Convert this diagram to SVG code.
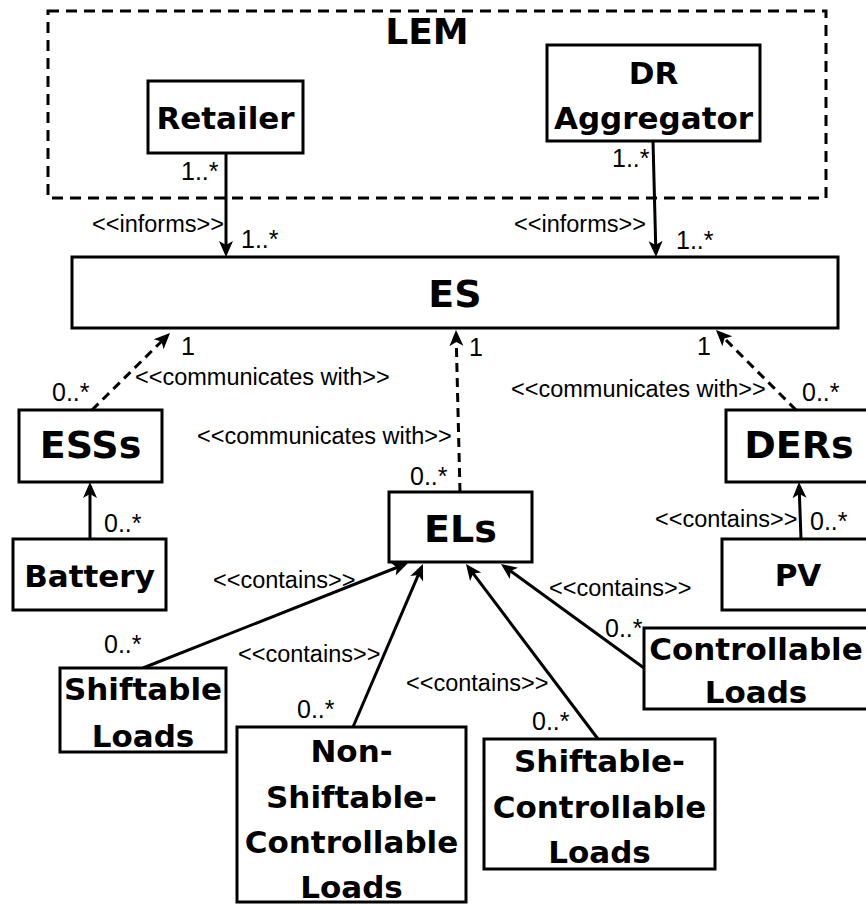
<svg xmlns="http://www.w3.org/2000/svg" width="866" height="904" viewBox="0 0 866 904">
  <style>
    .box { fill: #ffffff; stroke: #000000; stroke-width: 3; }
    .frame { fill: none; stroke: #000000; stroke-width: 3; stroke-dasharray: 11 7; }
    .name { font-family: "DejaVu Sans", Verdana, sans-serif; font-weight: bold; fill: #000000; text-anchor: middle; }
    .title { font-size: 36px; }
    .big { font-size: 38px; }
    .mid { font-size: 31px; }
    .lbl { font-family: "Liberation Sans", Arial, sans-serif; font-size: 23.5px; fill: #000000; }
    .mult { font-family: "Liberation Sans", Arial, sans-serif; font-size: 25px; fill: #000000; }
    .edge { fill: none; stroke: #000000; stroke-width: 3; marker-end: url(#head); }
    .dash { stroke-dasharray: 9 6; }
  </style>
  <defs>
    <marker id="head" markerUnits="userSpaceOnUse" markerWidth="16" markerHeight="14" refX="12" refY="7" orient="auto" overflow="visible">
      <path d="M0,0 L16,7 L0,14 L4,7 z" fill="#000000"/>
    </marker>
  </defs>

  <!-- LEM container -->
  <g id="lem">
    <rect class="frame" x="48" y="11" width="778" height="187"/>
    <text class="name title" x="427" y="44">LEM</text>
  </g>

  <!-- connectors -->
  <g id="connectors">
    <line class="edge" x1="226" y1="153" x2="226" y2="253"/>
    <line class="edge" x1="653" y1="141" x2="655.9" y2="253"/>
    <line class="edge dash" x1="92" y1="410" x2="167.2" y2="335.8"/>
    <line class="edge dash" x1="460" y1="492" x2="456.1" y2="334"/>
    <line class="edge dash" x1="796" y1="410" x2="718.8" y2="332.8"/>
    <line class="edge" x1="90" y1="539" x2="90" y2="486"/>
    <line class="edge" x1="801" y1="539" x2="799.1" y2="486"/>
    <line class="edge" x1="143" y1="668" x2="404.3" y2="564.5"/>
    <line class="edge" x1="353" y1="727" x2="421.4" y2="567.7"/>
    <line class="edge" x1="598" y1="739" x2="468.4" y2="567.2"/>
    <line class="edge" x1="644" y1="668" x2="504.2" y2="566.4"/>
  </g>

  <!-- connector labels -->
  <g id="labels">
    <text class="mult" x="181" y="180">1..*</text>
    <text class="lbl" x="92" y="232">&lt;&lt;informs&gt;&gt;</text>
    <text class="mult" x="241" y="248">1..*</text>
    <text class="mult" x="612" y="167">1..*</text>
    <text class="lbl" x="514" y="232">&lt;&lt;informs&gt;&gt;</text>
    <text class="mult" x="676" y="249">1..*</text>

    <text class="mult" x="181" y="355">1</text>
    <text class="lbl" x="135" y="385">&lt;&lt;communicates with&gt;&gt;</text>
    <text class="mult" x="52" y="401">0..*</text>

    <text class="mult" x="469" y="356">1</text>
    <text class="lbl" x="197" y="444">&lt;&lt;communicates with&gt;&gt;</text>
    <text class="mult" x="410" y="485">0..*</text>

    <text class="mult" x="697" y="355">1</text>
    <text class="lbl" x="511" y="397">&lt;&lt;communicates with&gt;&gt;</text>
    <text class="mult" x="802" y="401">0..*</text>

    <text class="mult" x="104" y="532">0..*</text>
    <text class="lbl" x="655" y="527">&lt;&lt;contains&gt;&gt;</text>
    <text class="mult" x="810" y="530">0..*</text>

    <text class="lbl" x="213" y="588">&lt;&lt;contains&gt;&gt;</text>
    <text class="mult" x="104" y="653">0..*</text>
    <text class="lbl" x="238" y="662">&lt;&lt;contains&gt;&gt;</text>
    <text class="mult" x="297" y="718">0..*</text>
    <text class="lbl" x="406" y="691">&lt;&lt;contains&gt;&gt;</text>
    <text class="mult" x="532" y="730">0..*</text>
    <text class="lbl" x="549" y="596">&lt;&lt;contains&gt;&gt;</text>
    <text class="mult" x="605" y="637">0..*</text>
  </g>

  <!-- nodes -->
  <g id="retailer">
    <rect class="box" x="148" y="81" width="155" height="72"/>
    <text class="name mid" x="225.5" y="129">Retailer</text>
  </g>
  <g id="dr-aggregator">
    <rect class="box" x="547" y="45" width="213" height="96"/>
    <text class="name mid" x="653.5" y="84">DR</text>
    <text class="name mid" x="653.5" y="129">Aggregator</text>
  </g>
  <g id="es">
    <rect class="box" x="72" y="257" width="766" height="71"/>
    <text class="name big" x="455" y="307">ES</text>
  </g>
  <g id="esss">
    <rect class="box" x="19" y="410" width="143" height="72"/>
    <text class="name big" x="90.5" y="458">ESSs</text>
  </g>
  <g id="battery">
    <rect class="box" x="13" y="539" width="153" height="71"/>
    <text class="name mid" x="89.5" y="587">Battery</text>
  </g>
  <g id="els">
    <rect class="box" x="389" y="492" width="143" height="70"/>
    <text class="name big" x="460.5" y="542">ELs</text>
  </g>
  <g id="ders">
    <rect class="box" x="726" y="410" width="148" height="72"/>
    <text class="name big" x="799" y="458">DERs</text>
  </g>
  <g id="pv">
    <rect class="box" x="722" y="539" width="152" height="71"/>
    <text class="name mid" x="798" y="586">PV</text>
  </g>
  <g id="controllable-loads">
    <rect class="box" x="644" y="628" width="224" height="81"/>
    <text class="name mid" x="756" y="660">Controllable</text>
    <text class="name mid" x="756" y="703">Loads</text>
  </g>
  <g id="shiftable-controllable-loads">
    <rect class="box" x="484" y="739" width="231" height="130"/>
    <text class="name mid" x="599.5" y="772">Shiftable-</text>
    <text class="name mid" x="599.5" y="818">Controllable</text>
    <text class="name mid" x="599.5" y="863">Loads</text>
  </g>
  <g id="non-shiftable-controllable-loads">
    <rect class="box" x="237" y="727" width="229" height="175"/>
    <text class="name mid" x="351.5" y="762">Non-</text>
    <text class="name mid" x="351.5" y="808">Shiftable-</text>
    <text class="name mid" x="351.5" y="853">Controllable</text>
    <text class="name mid" x="351.5" y="898">Loads</text>
  </g>
  <g id="shiftable-loads">
    <rect class="box" x="60" y="668" width="166" height="84"/>
    <text class="name mid" x="143" y="700">Shiftable</text>
    <text class="name mid" x="143" y="747">Loads</text>
  </g>
</svg>
